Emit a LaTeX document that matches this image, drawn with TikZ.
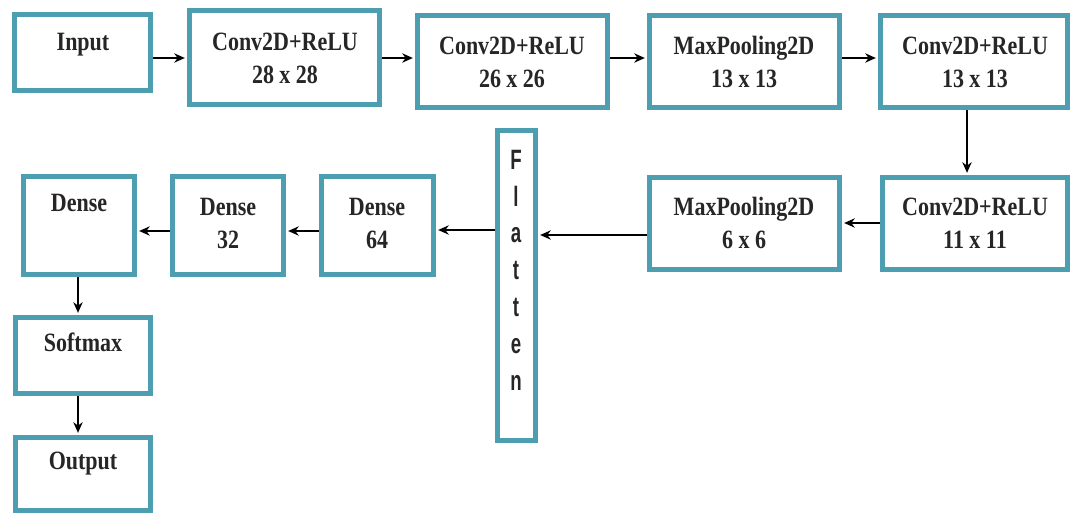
\documentclass[tikz,border=0pt]{standalone}
\usepackage{fontspec}
\setmainfont{Liberation Serif}
\newfontfamily\flatfont{Liberation Sans}
\usetikzlibrary{arrows.meta,fit,calc}
\definecolor{boxteal}{RGB}{76,158,176}
\newcommand{\Tx}[1]{\scalebox{1}[1.2]{#1}}
\newcommand{\Fx}[1]{\scalebox{1}[1.5]{#1}}
\begin{document}
\begin{tikzpicture}[x=0.75pt,y=-0.75pt,
  box/.style={draw=boxteal,line width=3.75pt,inner sep=0pt,fill=white},
  lbl/.style={font=\bfseries\fontsize{16.5}{24.75}\selectfont,align=center,inner sep=0pt,text=black!85},
  flbl/.style={font=\flatfont\bfseries\fontsize{14}{27.6}\selectfont,align=center,inner sep=0pt,text=black!85},
  arr/.style={-{Stealth[length=8pt,width=7pt]},line width=1.2pt,shorten >=1.6pt}]
\useasboundingbox[fill=white] (0,0) rectangle (1073,514);
% boxes
\node[box,fit={(14.5,14.5) (150.5,90.5)}] (input) {};
\node[box,fit={(189.5,10.5) (379.5,104.5)}] (conv1) {};
\node[box,fit={(417.5,15.5) (607.5,107.5)}] (conv2) {};
\node[box,fit={(649.5,15.5) (839.5,107.5)}] (pool1) {};
\node[box,fit={(880.5,15.5) (1067.5,107.5)}] (conv3) {};
\node[box,fit={(882.5,177.5) (1067.5,269.5)}] (conv4) {};
\node[box,fit={(649.5,177.5) (839.5,269.5)}] (pool2) {};
\node[box,fit={(497.5,130.5) (535.5,440.5)}] (flat) {};
\node[box,fit={(321.5,176.5) (433.5,274.5)}] (d64) {};
\node[box,fit={(172.5,176.5) (283.5,274.5)}] (d32) {};
\node[box,fit={(23.5,176.5) (134.5,274.5)}] (dense) {};
\node[box,fit={(15.5,317.5) (150.5,393.5)}] (soft) {};
\node[box,fit={(15.5,437.5) (150.5,510.5)}] (out) {};
% labels
\node[lbl] (tinput) at (83,45) {\Tx{Input}};
\node[lbl] (tconv1) at (285,58) {\Tx{Conv2D+ReLU}\\\Tx{28 x 28}};
\node[lbl] (tconv2) at (512,62) {\Tx{Conv2D+ReLU}\\\Tx{26 x 26}};
\node[lbl] (tpool1) at (744,62) {\Tx{MaxPooling2D}\\\Tx{13 x 13}};
\node[lbl] (tconv3) at (975,62) {\Tx{Conv2D+ReLU}\\\Tx{13 x 13}};
\node[lbl] (tconv4) at (975,223) {\Tx{Conv2D+ReLU}\\\Tx{11 x 11}};
\node[lbl] (tpool2) at (744,223) {\Tx{MaxPooling2D}\\\Tx{6 x 6}};
\node[lbl] (td64) at (377,223) {\Tx{Dense}\\\Tx{64}};
\node[lbl] (td32) at (228,223) {\Tx{Dense}\\\Tx{32}};
\node[lbl] (tdense) at (79,203) {\Tx{Dense}};
\node[lbl] (tsoft) at (83,342) {\Tx{Softmax}};
\node[lbl] (tout) at (83,464) {\Tx{Output}};
\node[flbl] (tflat) at (516,270) {\Fx{F}\\\Fx{l}\\\Fx{a}\\\Fx{t}\\\Fx{t}\\\Fx{e}\\\Fx{n}};
% helper coordinates
\coordinate (yA) at (0,58);
\coordinate (yB) at (0,235);
\coordinate (yC) at (0,230);
\coordinate (yD) at (0,231);
\coordinate (yE) at (0,223);
\coordinate (xA) at (967,0);
\coordinate (xB) at (78,0);
% connectors
\draw[arr] (input.east |- yA) -- (conv1.west |- yA);
\draw[arr] (conv1.east |- yA) -- (conv2.west |- yA);
\draw[arr] (conv2.east |- yA) -- (pool1.west |- yA);
\draw[arr] (pool1.east |- yA) -- (conv3.west |- yA);
\draw[arr] (conv3.south -| xA) -- (conv4.north -| xA);
\draw[arr] (conv4.west |- yE) -- (pool2.east |- yE);
\draw[arr] (pool2.west |- yB) -- (flat.east |- yB);
\draw[arr] (flat.west |- yC) -- (d64.east |- yC);
\draw[arr] (d64.west |- yD) -- (d32.east |- yD);
\draw[arr] (d32.west |- yD) -- (dense.east |- yD);
\draw[arr] (dense.south -| xB) -- (soft.north -| xB);
\draw[arr] (soft.south -| xB) -- (out.north -| xB);
\end{tikzpicture}
\end{document}
